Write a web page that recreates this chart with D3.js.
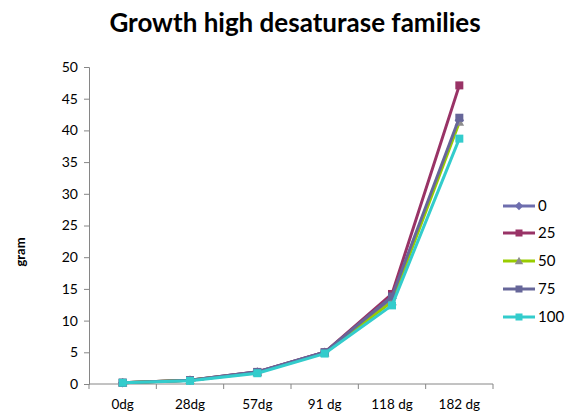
<!DOCTYPE html>
<html>
<head>
<meta charset="utf-8">
<script src="https://cdn.jsdelivr.net/npm/d3@7/dist/d3.min.js"></script>
<style>
  html, body { margin: 0; padding: 0; background: #fff; }
  svg text { font-family: Lato, "Open Sans", "DejaVu Sans", sans-serif; fill: #000; }
</style>
</head>
<body>
<svg id="chart" width="568" height="412"></svg>
<script>
// Sampling days and family weights (gram)
const categories = ["0dg", "28dg", "57dg", "91 dg", "118 dg", "182 dg"];
const seriesNames = ["0", "25", "50", "75", "100"];
const values0   = [0.2, 0.6, 1.9, 5.0, 13.5, 41.6];
const values25  = [0.2, 0.6, 1.9, 5.0, 14.2, 47.1];
const values50  = [0.2, 0.6, 1.8, 4.9, 13.0, 41.3];
const values75  = [0.2, 0.6, 1.9, 5.0, 13.8, 42.0];
const values100 = [0.2, 0.5, 1.7, 4.8, 12.4, 38.7];
const yTicks = [0, 5, 10, 15, 20, 25, 30, 35, 40, 45, 50];

const colors = ["#6E6EAE", "#993366", "#99CC00", "#666699", "#33CCCC"];
const markers = ["diamond", "square", "triangle", "square", "square"];
const markerFill = ["#6E6EAE", "#993366", "#8C8C8C", "#666699", "#33CCCC"];

const series = seriesNames.map((name, i) => ({
  name,
  values: [values0, values25, values50, values75, values100][i],
  color: colors[i],
  marker: markers[i],
  mfill: markerFill[i]
}));

const svg = d3.select("#chart");
const plotLeft = 89, plotRight = 493, plotTop = 67, plotBottom = 384;

const x = d3.scaleBand().domain(categories).range([plotLeft, plotRight]);
const y = d3.scaleLinear().domain([0, 50]).range([plotBottom, plotTop]);

// Title
svg.append("text")
  .attr("x", 295).attr("y", 32)
  .attr("text-anchor", "middle")
  .style("font-size", "26px").style("font-weight", "bold")
  .text("Growth high desaturase families");

// Y axis
const yAxis = svg.append("g").attr("transform", `translate(${plotLeft},0)`)
  .call(d3.axisLeft(y).tickValues(yTicks).tickSize(5).tickPadding(6));
yAxis.select(".domain").attr("stroke", "#868686");
yAxis.selectAll(".tick line").attr("stroke", "#868686");
yAxis.selectAll(".tick text").style("font-size", "14px").style("font-family", "Lato, 'Open Sans', sans-serif").attr("fill", "#000");

// X axis with ticks between categories
const xg = svg.append("g").attr("transform", `translate(0,${plotBottom})`);
xg.append("line").attr("x1", plotLeft).attr("x2", plotRight).attr("stroke", "#868686");
const bounds = d3.range(categories.length + 1).map(i => plotLeft + i * x.bandwidth());
xg.selectAll("line.tk").data(bounds).enter().append("line")
  .attr("class", "tk")
  .attr("x1", d => d).attr("x2", d => d).attr("y1", 0).attr("y2", 5)
  .attr("stroke", "#868686");
xg.selectAll("text").data(categories).enter().append("text")
  .attr("x", d => x(d) + x.bandwidth() / 2)
  .attr("y", 25)
  .attr("text-anchor", "middle")
  .style("font-size", "13.5px")
  .text(d => d);

// Y axis title
svg.append("text")
  .attr("transform", "translate(25,252) rotate(-90)")
  .attr("text-anchor", "middle")
  .style("font-size", "13px").style("font-weight", "bold")
  .text("gram");

const cx = d => x(d) + x.bandwidth() / 2;
const line = d3.line().x((v, i) => cx(categories[i])).y(v => y(v));

function drawMarker(g, type, px, py, fill, s) {
  if (type === "square") {
    g.append("rect").attr("x", px - s / 2).attr("y", py - s / 2)
      .attr("width", s).attr("height", s).attr("fill", fill);
  } else if (type === "diamond") {
    const r = s * 0.6;
    g.append("path").attr("d", `M${px},${py - r}L${px + r},${py}L${px},${py + r}L${px - r},${py}Z`).attr("fill", fill);
  } else {
    const r = s * 0.6;
    g.append("path").attr("d", `M${px},${py - r}L${px + r},${py + r * 0.75}L${px - r},${py + r * 0.75}Z`).attr("fill", fill);
  }
}

// Series lines and markers
series.forEach(s => {
  const g = svg.append("g");
  g.append("path").datum(s.values)
    .attr("d", line).attr("fill", "none")
    .attr("stroke", s.color).attr("stroke-width", 3).attr("stroke-linejoin", "round");
  s.values.forEach((v, i) => drawMarker(g, s.marker, cx(categories[i]), y(v), s.mfill, 8));
});

// Legend
const legY = [206, 233, 261, 289, 317];
series.forEach((s, i) => {
  const g = svg.append("g");
  g.append("line").attr("x1", 503).attr("x2", 535).attr("y1", legY[i]).attr("y2", legY[i])
    .attr("stroke", s.color).attr("stroke-width", 3);
  drawMarker(g, s.marker, 519, legY[i], s.mfill, 7);
  g.append("text").attr("x", 538).attr("y", legY[i] + 5)
    .style("font-size", "15px").text(s.name);
});
</script>
</body>
</html>
